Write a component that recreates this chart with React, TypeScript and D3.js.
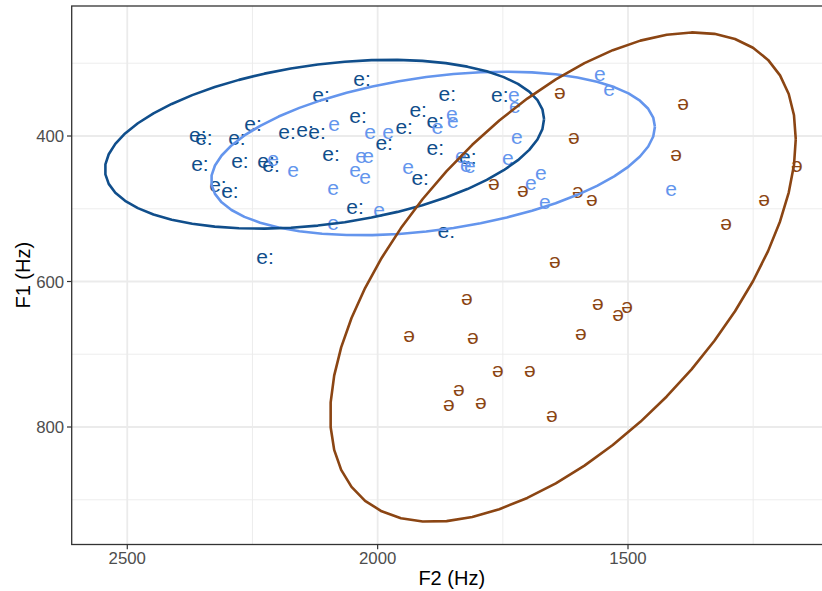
import React from "react";
import * as d3 from "d3";

// ---- data (F2, F1 in Hz) ----
const eLongF2 = [2359, 2347, 2249, 2281, 2355, 2275, 2223, 2213, 2319, 2295, 2181, 2145, 2121, 2031, 2113, 1861, 2039, 1919, 1947, 1885, 1987, 2093, 1885, 1915, 1820, 1756, 2045, 1863, 2225];
const eLongF1 = [400, 405, 385, 405, 440, 436, 436, 441, 469, 478, 397, 394, 397, 324, 346, 344, 375, 366, 389, 381, 412, 426, 419, 460, 430, 346, 499, 533, 568];
const eF2 = [2209, 2169, 2087, 2015, 1979, 2033, 2019, 2045, 2025, 2089, 1939, 1852, 1850, 1881, 1834, 1816, 1824, 1728, 1726, 1556, 1538, 1722, 1740, 1694, 1674, 1666, 1414, 1997, 2089];
const eF1 = [434, 449, 385, 397, 397, 429, 429, 449, 458, 473, 444, 372, 381, 390, 429, 443, 441, 345, 361, 317, 337, 403, 432, 467, 452, 493, 474, 503, 522];
const schwaF2 = [1636, 1608, 1768, 1710, 1600, 1572, 1390, 1404, 1163, 1228, 1304, 1646, 1822, 1937, 1810, 1560, 1520, 1502, 1594, 1760, 1696, 1838, 1858, 1794, 1652];
const schwaF1 = [341, 403, 467, 476, 478, 488, 356, 427, 441, 489, 522, 573, 625, 675, 678, 632, 647, 636, 672, 723, 724, 749, 770, 768, 785];

const vowels = ["e:", "e", "ə"];
const colors = ["#104E8B", "#6495ED", "#8B4513"];
const seriesF2 = [eLongF2, eF2, schwaF2];
const seriesF1 = [eLongF1, eF1, schwaF1];

const xDomain = [2611, 1093];
const yDomain = [221.3, 961.5];
const xTicks = [2500, 2000, 1500];
const xMinor = [2250, 1750, 1250];
const yTicks = [400, 600, 800];
const yMinor = [300, 500, 700, 900];

// MASS::cov.trob (nu = 5) as used by stat_ellipse(type = "t")
function covTrob(xs: number[][]) {
  const n = xs.length;
  const nu = 5, p = 2, maxit = 25, tol = 0.01;
  let loc = [d3.mean(xs, (d) => d[0])!, d3.mean(xs, (d) => d[1])!];
  let w = xs.map(() => 1);
  let X = xs.map((d) => [d[0] - loc[0], d[1] - loc[1]]);
  for (let iter = 0; iter < maxit; iter++) {
    const w0 = w.slice();
    X = xs.map((d) => [d[0] - loc[0], d[1] - loc[1]]);
    const sw = d3.sum(w);
    let a = 0, b = 0, c = 0;
    X.forEach((v, i) => {
      a += (w[i] / sw) * v[0] * v[0];
      b += (w[i] / sw) * v[0] * v[1];
      c += (w[i] / sw) * v[1] * v[1];
    });
    const det = a * c - b * b;
    const Q = X.map((v) => (c * v[0] * v[0] - 2 * b * v[0] * v[1] + a * v[1] * v[1]) / det);
    w = Q.map((q) => (nu + p) / (nu + q));
    const sw2 = d3.sum(w);
    loc = [d3.sum(xs, (d, i) => w[i] * d[0]) / sw2, d3.sum(xs, (d, i) => w[i] * d[1]) / sw2];
    if (w.every((wi, i) => Math.abs(wi - w0[i]) < tol)) break;
  }
  let a = 0, b = 0, c = 0;
  X.forEach((v, i) => {
    a += w[i] * v[0] * v[0];
    b += w[i] * v[0] * v[1];
    c += w[i] * v[1] * v[1];
  });
  return { center: loc, cov: [a / n, b / n, c / n] };
}

function ellipsePoints(f2: number[], f1: number[]) {
  // scale_x_reverse / scale_y_reverse: stat sees negated values
  const xs = f2.map((v, i) => [-v, -f1[i]]);
  const { center, cov } = covTrob(xs);
  const [a, b, c] = cov;
  const r11 = Math.sqrt(a), r12 = b / r11, r22 = Math.sqrt(c - r12 * r12);
  const dfd = xs.length - 1;
  const fq = (dfd / 2) * (Math.pow(0.05, -2 / dfd) - 1);
  const radius = Math.sqrt(2 * fq);
  const segs = 51;
  const pts: [number, number][] = [];
  for (let k = 0; k <= segs; k++) {
    const t = (k * 2 * Math.PI) / segs;
    const ux = Math.cos(t) * r11;
    const uy = Math.cos(t) * r12 + Math.sin(t) * r22;
    pts.push([-(center[0] + radius * ux), -(center[1] + radius * uy)]);
  }
  return pts;
}

export default function App() {
  const W = 822, H = 591;
  const left = 71.7, right = 831.8, top = 6, bottom = 544.5;
  const x = d3.scaleLinear().domain(xDomain).range([left, right]);
  const y = d3.scaleLinear().domain(yDomain).range([top, bottom]);
  const line = d3.line<[number, number]>().x((d) => x(d[0])).y((d) => y(d[1]));
  const font = "'Liberation Sans', Arial, Helvetica, sans-serif";
  const grid = "#EBEBEB";

  return (
    <svg width={W} height={H} style={{ position: "absolute", left: 0, top: 0, background: "#fff" }} fontFamily={font}>
      <defs>
        <clipPath id="panel">
          <rect x={left} y={top} width={right - left} height={bottom - top} />
        </clipPath>
      </defs>
      <rect x={0} y={0} width={W} height={H} fill="#fff" />
      <g>
        {xMinor.map((t) => (
          <line key={"xm" + t} x1={x(t)} x2={x(t)} y1={top} y2={bottom} stroke={grid} strokeWidth={0.9} />
        ))}
        {yMinor.map((t) => (
          <line key={"ym" + t} x1={left} x2={right} y1={y(t)} y2={y(t)} stroke={grid} strokeWidth={0.9} />
        ))}
        {xTicks.map((t) => (
          <line key={"xg" + t} x1={x(t)} x2={x(t)} y1={top} y2={bottom} stroke={grid} strokeWidth={1.8} />
        ))}
        {yTicks.map((t) => (
          <line key={"yg" + t} x1={left} x2={right} y1={y(t)} y2={y(t)} stroke={grid} strokeWidth={1.8} />
        ))}
      </g>
      <g clipPath="url(#panel)">
        {vowels.map((v, gi) =>
          seriesF2[gi].map((f2, i) => (
            <text
              key={v + i}
              x={x(f2)}
              y={y(seriesF1[gi][i])}
              dy="0.27em"
              textAnchor="middle"
              fontSize={21}
              fill={colors[gi]}
            >
              {v}
            </text>
          ))
        )}
        {[1, 0, 2].map((gi) => (
          <path
            key={"el" + gi}
            d={line(ellipsePoints(seriesF2[gi], seriesF1[gi]))!}
            fill="none"
            stroke={colors[gi]}
            strokeWidth={2.6}
            strokeLinejoin="round"
          />
        ))}
      </g>
      <rect x={left} y={top} width={right - left} height={bottom - top} fill="none" stroke="#333333" strokeWidth={1.3} />
      {xTicks.map((t) => (
        <g key={"xt" + t}>
          <line x1={x(t)} x2={x(t)} y1={bottom} y2={bottom + 4.7} stroke="#333333" strokeWidth={1.2} />
          <text x={x(t)} y={564} textAnchor="middle" fontSize={16.8} fill="#4D4D4D">
            {t}
          </text>
        </g>
      ))}
      {yTicks.map((t) => (
        <g key={"yt" + t}>
          <line x1={left - 4.7} x2={left} y1={y(t)} y2={y(t)} stroke="#333333" strokeWidth={1.2} />
          <text x={left - 7.5} y={y(t)} dy="0.36em" textAnchor="end" fontSize={16.8} fill="#4D4D4D">
            {t}
          </text>
        </g>
      ))}
      <text x={(left + right) / 2} y={585} textAnchor="middle" fontSize={20} fill="#000">
        F2 (Hz)
      </text>
      <text transform={`translate(30,${(top + bottom) / 2}) rotate(-90)`} textAnchor="middle" fontSize={20} fill="#000">
        F1 (Hz)
      </text>
    </svg>
  );
}
